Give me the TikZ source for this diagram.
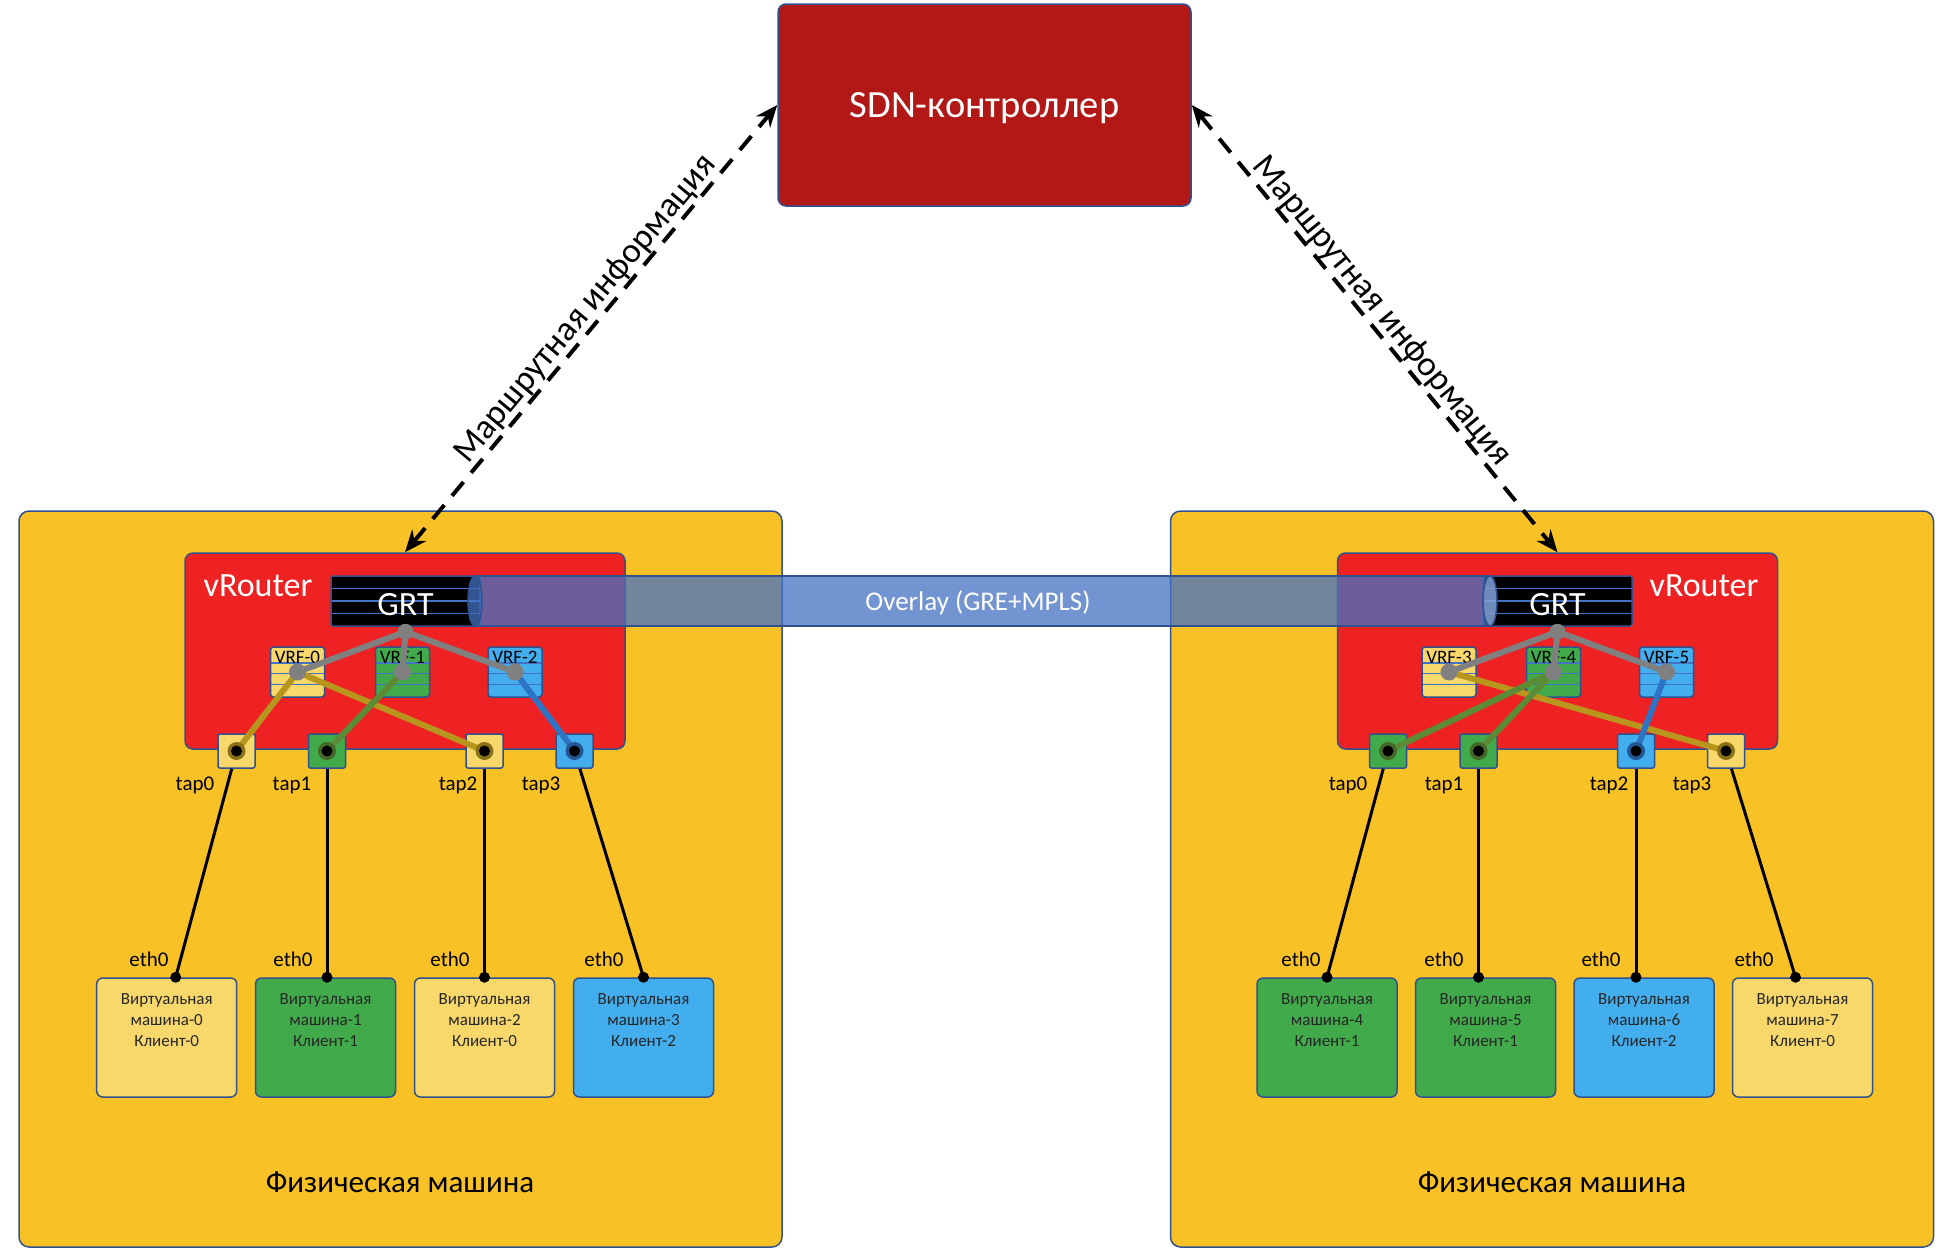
\documentclass[tikz,border=0pt]{standalone}
\usepackage{fontspec}
\setmainfont{Carlito}
\usepackage{tikz}
\usetikzlibrary{arrows.meta,positioning,calc}
\definecolor{machine}{HTML}{F8C125}
\definecolor{router}{HTML}{EE2222}
\definecolor{ctrl}{HTML}{B21815}
\definecolor{rim}{HTML}{2F528F}
\definecolor{clyellow}{HTML}{F9D86B}
\definecolor{clgreen}{HTML}{41AB4C}
\definecolor{clblue}{HTML}{42AEEE}
\definecolor{lnyellow}{HTML}{B8961E}
\definecolor{lngreen}{HTML}{5B8B34}
\definecolor{lnblue}{HTML}{2E74C4}
\definecolor{pipe}{HTML}{4472C4}
\newcommand{\fsz}[2]{\fontsize{#1}{#2}\selectfont}

\begin{document}
\begin{tikzpicture}[x=1pt, y=-1pt, every node/.style={font=\fsz{21}{25}},
 edged/.style={draw=rim, line width=1.5},
 rows/.style={path picture={\foreach \f in {#1} \draw[pipe, line width=1.2] ($(path picture bounding box.north west)!\f!(path picture bounding box.south west)$) -- ($(path picture bounding box.north east)!\f!(path picture bounding box.south east)$);}},
 phys/.style={edged, fill=machine, rounded corners=10, minimum width=763, minimum height=736},
 ctrlbox/.style={edged, fill=ctrl, text=white, rounded corners=8, minimum width=413, minimum height=202, text depth=0pt, font=\fsz{38.5}{38.5}},
 vrouter/.style={edged, fill=router, rounded corners=8, minimum width=440, minimum height=196},
 grt/.style={edged, fill=black, rounded corners=2, minimum width=149, minimum height=50, rows={0.25,0.5,0.75}},
 grtlbl/.style={text=white, text depth=0pt, yshift=-3, font=\fsz{34}{34}},
 vrf/.style={edged, rounded corners=3, minimum width=54, minimum height=50, rows={0.32,0.53,0.75}},
 vrflbl/.style={anchor=north, inner sep=0, yshift=-4.5, font=\fsz{19}{19}},
 tapbox/.style={edged, rounded corners=2, minimum width=37, minimum height=34},
 vm/.style={edged, rounded corners=6, minimum width=140, minimum height=119},
 vmlbl/.style={anchor=north, inner sep=0, yshift=-16.5, align=center, text=black!85, font=\fsz{17}{21}},
 hostlbl/.style={font=\fsz{31}{31}},
 vrlbl/.style={text=white, font=\fsz{34}{34}},
 lnk/.style={line width=6, line cap=round},
 wire/.style={line width=3},
 info/.style={{Stealth[length=22pt,width=18pt]}-{Stealth[length=22pt,width=18pt]}, line width=4, dash pattern=on 18pt off 12pt},
 infolbl/.style={sloped, above, inner sep=0, font=\fsz{35}{35}}]
\path[use as bounding box, fill=white] (0,0) rectangle (1950,1251);

\node[phys] (lhost) at (400.5,879) {};
\node[phys] (rhost) at (1552,879) {};
\node[hostlbl] (lhostname) at (400,1182) {Физическая машина};
\node[hostlbl] (rhostname) at (1552,1182) {Физическая машина};

\node[vrouter] (lvr) at (405,651) {};
\node[vrouter] (rvr) at (1557.5,651) {};
\node[vrlbl] (lvrname) at (258,586) {vRouter};
\node[vrlbl] (rvrname) at (1704,586) {vRouter};

\node[grt] (lgrt) at (405.5,601) {};
\node[grt] (rgrt) at (1557.5,601) {};

\node[vrf, fill=clyellow, label={[vrflbl]north:VRF-0}] (lvrf0) at (297.5,672) {};
\node[vrf, fill=clgreen, label={[vrflbl]north:VRF-1}] (lvrf1) at (402.5,672) {};
\node[vrf, fill=clblue, label={[vrflbl]north:VRF-2}] (lvrf2) at (515,672) {};
\node[vrf, fill=clyellow, label={[vrflbl]north:VRF-3}] (rvrf3) at (1449,672) {};
\node[vrf, fill=clgreen, label={[vrflbl]north:VRF-4}] (rvrf4) at (1553.5,672) {};
\node[vrf, fill=clblue, label={[vrflbl]north:VRF-5}] (rvrf5) at (1666.5,672) {};

\node[tapbox, fill=clyellow] (ltap0) at (236.5,751) {};
\node[tapbox, fill=clgreen] (ltap1) at (327,751) {};
\node[tapbox, fill=clyellow] (ltap2) at (484.5,751) {};
\node[tapbox, fill=clblue] (ltap3) at (574.5,751) {};
\node[tapbox, fill=clgreen] (rtap0) at (1388,751) {};
\node[tapbox, fill=clgreen] (rtap1) at (1478.5,751) {};
\node[tapbox, fill=clblue] (rtap2) at (1636,751) {};
\node[tapbox, fill=clyellow] (rtap3) at (1726,751) {};

\node (ltap0name) at (195,785) {tap0};
\node (ltap1name) at (292,785) {tap1};
\node (ltap2name) at (458,785) {tap2};
\node (ltap3name) at (541,785) {tap3};
\node (rtap0name) at (1348,785) {tap0};
\node (rtap1name) at (1444,785) {tap1};
\node (rtap2name) at (1609,785) {tap2};
\node (rtap3name) at (1692,785) {tap3};

\fill[pipe, fill opacity=0.75] (475,576) -- (1490,576) arc[start angle=-90, end angle=90, x radius=7, y radius=25] -- (475,626) arc[start angle=90, end angle=270, x radius=7, y radius=25] -- cycle;
\fill[pipe!45!white, fill opacity=0.5] (1490,601) ellipse[x radius=7, y radius=25];
\draw[rim, line width=1.5] (475,576) -- (1490,576) (475,626) -- (1490,626);
\draw[rim, line width=1.5] (475,601) ellipse[x radius=7, y radius=25];
\draw[rim, line width=1.5] (1490,601) ellipse[x radius=7, y radius=25];
\node[text=white, font=\fsz{27}{27}] (overlay) at (978,603) {Overlay (GRE+MPLS)};

\node[grtlbl] (lgrtname) at (lgrt) {GRT};
\node[grtlbl] (rgrtname) at (rgrt) {GRT};

\node[ctrlbox] (sdn) at (984.5,105) {SDN-контроллер};

\coordinate (lhub) at ($(lgrt.south)+(0,5)$);
\coordinate (rhub) at ($(rgrt.south)+(0,5)$);

\draw[lnk, lnyellow] (lvrf0.center) -- (ltap0.center);
\draw[lnk, lnyellow] (lvrf0.center) -- (ltap2.center);
\draw[lnk, lngreen] (lvrf1.center) -- (ltap1.center);
\draw[lnk, lnblue] (lvrf2.center) -- (ltap3.center);
\draw[lnk, lnyellow] (rvrf3.center) -- (rtap3.center);
\draw[lnk, lngreen] (rvrf4.center) -- (rtap0.center);
\draw[lnk, lngreen] (rvrf4.center) -- (rtap1.center);
\draw[lnk, lnblue] (rvrf5.center) -- (rtap2.center);

\draw[lnk, gray] (lhub) -- (lvrf0.center);
\draw[lnk, gray] (lhub) -- (lvrf1.center);
\draw[lnk, gray] (lhub) -- (lvrf2.center);
\draw[lnk, gray] (rhub) -- (rvrf3.center);
\draw[lnk, gray] (rhub) -- (rvrf4.center);
\draw[lnk, gray] (rhub) -- (rvrf5.center);
\fill[gray] (lhub) circle[radius=8] (lvrf0) circle[radius=8.5] (lvrf1) circle[radius=8.5] (lvrf2) circle[radius=8.5];
\fill[gray] (rhub) circle[radius=8] (rvrf3) circle[radius=8.5] (rvrf4) circle[radius=8.5] (rvrf5) circle[radius=8.5];

\node[vm, fill=clyellow, label={[vmlbl]north:Виртуальная\\машина-0\\Клиент-0}] (lvm0) at (166.7,1037.5) {};
\node[vm, fill=clgreen, label={[vmlbl]north:Виртуальная\\машина-1\\Клиент-1}] (lvm1) at (325.5,1037.5) {};
\node[vm, fill=clyellow, label={[vmlbl]north:Виртуальная\\машина-2\\Клиент-0}] (lvm2) at (484.5,1037.5) {};
\node[vm, fill=clblue, label={[vmlbl]north:Виртуальная\\машина-3\\Клиент-2}] (lvm3) at (643.5,1037.5) {};
\node[vm, fill=clgreen, label={[vmlbl]north:Виртуальная\\машина-4\\Клиент-1}] (rvm4) at (1327,1037.5) {};
\node[vm, fill=clgreen, label={[vmlbl]north:Виртуальная\\машина-5\\Клиент-1}] (rvm5) at (1485.5,1037.5) {};
\node[vm, fill=clblue, label={[vmlbl]north:Виртуальная\\машина-6\\Клиент-2}] (rvm6) at (1644,1037.5) {};
\node[vm, fill=clyellow, label={[vmlbl]north:Виртуальная\\машина-7\\Клиент-0}] (rvm7) at (1802.5,1037.5) {};

\node (leth0) at (149,959) {eth0};
\node (leth1) at (293,959) {eth0};
\node (leth2) at (450,959) {eth0};
\node (leth3) at (604,959) {eth0};
\node (reth4) at (1301,959) {eth0};
\node (reth5) at (1444,959) {eth0};
\node (reth6) at (1601,959) {eth0};
\node (reth7) at (1754,959) {eth0};

\coordinate (lvm0port) at ($(lvm0.north)+(9,0)$);
\coordinate (lvm1port) at (ltap1 |- lvm1.north);
\coordinate (lvm2port) at (ltap2 |- lvm2.north);
\coordinate (lvm3port) at (lvm3.north);
\coordinate (rvm4port) at (rvm4.north);
\coordinate (rvm5port) at (rtap1 |- rvm5.north);
\coordinate (rvm6port) at (rtap2 |- rvm6.north);
\coordinate (rvm7port) at ($(rvm7.north)+(-7,0)$);

\draw[wire] (ltap0) -- (lvm0port);
\draw[wire] (ltap1) -- (lvm1port);
\draw[wire] (ltap2) -- (lvm2port);
\draw[wire] (ltap3) -- (lvm3port);
\draw[wire] (rtap0) -- (rvm4port);
\draw[wire] (rtap1) -- (rvm5port);
\draw[wire] (rtap2) -- (rvm6port);
\draw[wire] (rtap3) -- (rvm7port);

\fill[lnyellow!75!black] (ltap0) circle[radius=9] (ltap2) circle[radius=9] (rtap3) circle[radius=9];
\fill[lngreen!75!black] (ltap1) circle[radius=9] (rtap0) circle[radius=9] (rtap1) circle[radius=9];
\fill[lnblue!75!black] (ltap3) circle[radius=9] (rtap2) circle[radius=9];
\fill (ltap0) circle[radius=5.5] (ltap1) circle[radius=5.5] (ltap2) circle[radius=5.5] (ltap3) circle[radius=5.5];
\fill (rtap0) circle[radius=5.5] (rtap1) circle[radius=5.5] (rtap2) circle[radius=5.5] (rtap3) circle[radius=5.5];
\fill (lvm0port) circle[radius=5.5] (lvm1port) circle[radius=5.5] (lvm2port) circle[radius=5.5] (lvm3port) circle[radius=5.5];
\fill (rvm4port) circle[radius=5.5] (rvm5port) circle[radius=5.5] (rvm6port) circle[radius=5.5] (rvm7port) circle[radius=5.5];

\draw[info] (lvr.north) -- node[infolbl, pos=0.52] {Маршрутная информация} (sdn.west);
\draw[info] (sdn.east) -- node[infolbl, pos=0.485] {Маршрутная информация} (rvr.north);
\end{tikzpicture}
\end{document}
